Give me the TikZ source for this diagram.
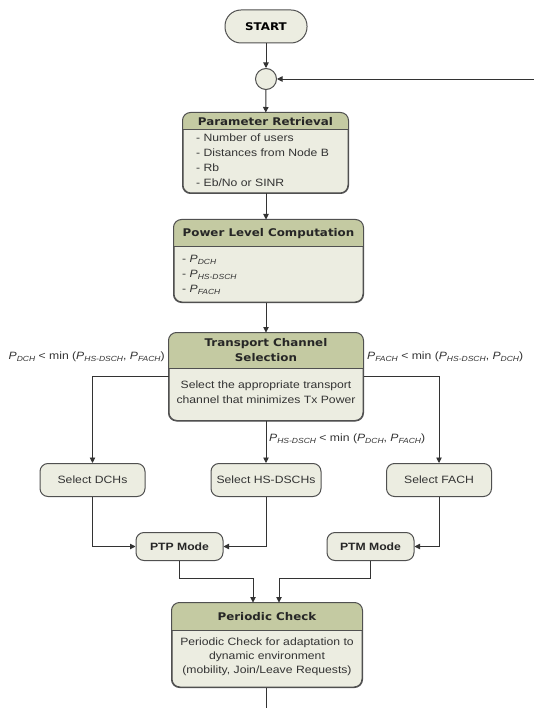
\documentclass[tikz,border=0pt]{standalone}
\usepackage{fontspec}
\setmainfont{Liberation Sans}
\newfontfamily\bodyf[FakeStretch=1.15]{Liberation Sans}
\newfontfamily\titlef[FakeStretch=1.12]{DejaVu Sans}
\usetikzlibrary{arrows.meta}
\definecolor{hdr}{HTML}{C4CAA2}
\definecolor{bodyc}{HTML}{ECEDE1}
\definecolor{edge}{HTML}{505050}
\definecolor{txt}{HTML}{333333}
\newcommand\bodysize{\bodyf\fontsize{10.6}{15}\selectfont}
\newcommand\titlesize{\titlef\bfseries\fontsize{10.6}{15.5}\selectfont}
\newcommand\Psub[1]{\textit{P}\raisebox{-2.2pt}{\fontsize{7.4}{8}\selectfont\itshape #1}}
\newcommand\drawheader[2]{%
  \begin{scope}
    \clip[rounded corners=8pt] (#1.north west) rectangle (#1.south east);
    \fill[hdr] (#1.north west) rectangle (#1.east |- 0,#2);
  \end{scope}
  \draw[draw=edge,line width=1pt,rounded corners=8pt] (#1.north west) rectangle (#1.south east);
  \draw[edge,line width=1pt] (#1.west |- 0,#2) -- (#1.east |- 0,#2);}
\tikzset{
  box/.style={draw=edge, line width=1pt, fill=bodyc, rounded corners=8pt, inner sep=0pt},
  conn/.style={draw=txt, line width=0.9pt, -{Triangle[width=5.5pt,length=5.5pt]}},
  plainline/.style={draw=txt, line width=0.9pt},
  body/.style={text=txt, font=\bodysize},
  ttl/.style={text=black!85, font=\titlesize},
  lbl/.style={text=txt, font=\bodysize, inner sep=0pt, anchor=west}
}
\begin{document}
\begin{tikzpicture}[x=1pt,y=-1pt]
\useasboundingbox (0,0) rectangle (534,708);
\fill[white] (0,0) rectangle (534,708);

% nodes
\node[box, minimum width=82pt, minimum height=33pt, rounded corners=16pt] (start) at (266,26.5) {\titlef\bfseries\fontsize{10.6}{12}\selectfont START};
\node[circle, draw=edge, fill=bodyc, line width=1pt, minimum size=21pt, inner sep=0pt] (junc) at (266,79) {};

\node[box, minimum width=165pt, minimum height=80pt] (pr) at (265.5,153) {};
\drawheader{pr}{130}
\node[ttl] (prt) at (265.5,122) {Parameter Retrieval};
\node[body, anchor=west, align=left, inner sep=0pt] (prb) at (196,160.5) {- Number of users\\- Distances from Node B\\- Rb\\- Eb/No or SINR};

\node[box, minimum width=189pt, minimum height=82pt] (pl) at (268.5,261) {};
\drawheader{pl}{247}
\node[ttl] (plt) at (268.5,233.5) {Power Level Computation};
\node[body, anchor=west, align=left, inner sep=0pt] (plb) at (182,275) {- \Psub{DCH}\\- \Psub{HS-DSCH}\\- \Psub{FACH}};

\node[box, minimum width=194pt, minimum height=87.5pt] (tc) at (266,376.75) {};
\drawheader{tc}{368}
\node[ttl, align=center] (tct) at (266,350) {Transport Channel\\Selection};
\node[body, align=center, font=\bodyf\fontsize{10.6}{15.3}\selectfont] (tcb) at (266,392.5) {Select the appropriate transport\\channel that minimizes Tx Power};

\node[box, minimum width=105pt, minimum height=33pt, font=\bodysize, text=txt] (dch) at (92.5,480) {Select DCHs};
\node[box, minimum width=110pt, minimum height=33pt, font=\bodysize, text=txt] (hs) at (266,480) {Select HS-DSCHs};
\node[box, minimum width=105pt, minimum height=33pt, font=\bodysize, text=txt] (fach) at (439,480) {Select FACH};

\node[box, minimum width=87pt, minimum height=28pt, font=\bodysize\bfseries, text=black!85] (ptp) at (179.5,546.5) {PTP Mode};
\node[box, minimum width=87pt, minimum height=28pt, font=\bodysize\bfseries, text=black!85] (ptm) at (370.5,546.5) {PTM Mode};

\node[box, minimum width=190pt, minimum height=84pt] (pc) at (267,645) {};
\drawheader{pc}{630}
\node[ttl] (pct) at (267,616.5) {Periodic Check};
\node[body, align=center, font=\bodyf\fontsize{10.6}{14}\selectfont] (pcb) at (267,657) {Periodic Check for adaptation to\\dynamic environment\\(mobility, Join/Leave Requests)};

% labels
\node[lbl] (lblL) at (8.5,357) {\Psub{DCH} < min (\Psub{HS-DSCH}, \Psub{FACH})};
\node[lbl] (lblR) at (367,357) {\Psub{FACH} < min (\Psub{HS-DSCH}, \Psub{DCH})};
\node[lbl] (lblM) at (269,438.5) {\Psub{HS-DSCH} < min (\Psub{DCH}, \Psub{FACH})};

% connectors
\coordinate (feed) at (545,79);
\coordinate (mL) at (253,578);
\coordinate (mR) at (279,578);
\coordinate (endpt) at (266,715);
\draw[conn] (start) -- (junc);
\draw[conn] (feed) -- (junc.east);
\draw[conn] (junc) -- (pr);
\draw[conn] (pr.south -| 266,0) -- (pl.north -| 266,0);
\draw[conn] (pl.south -| 266,0) -- (tc.north);
\draw[conn] (tc.west) -| (dch.north);
\draw[conn] (tc.east) -| (fach.north);
\draw[conn] (tc.south) -- (hs.north);
\draw[conn] (dch.south) |- (ptp.west);
\draw[conn] (hs.south) |- (ptp.east);
\draw[conn] (fach.south) |- (ptm.east);
\draw[conn] (ptp.south) |- (mL) -- (mL |- pc.north);
\draw[conn] (ptm.south) |- (mR) -- (mR |- pc.north);
\draw[plainline] (pc.south -| 266,0) -- (endpt);
\end{tikzpicture}
\end{document}
